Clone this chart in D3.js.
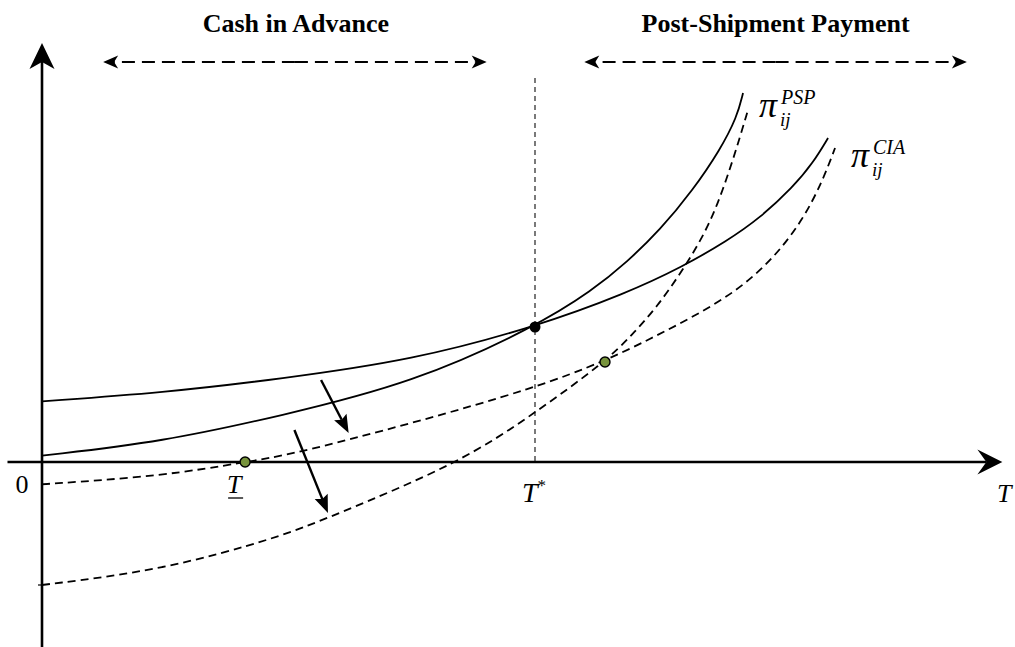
<!DOCTYPE html>
<html>
<head>
<meta charset="utf-8">
<script src="https://cdn.jsdelivr.net/npm/d3@7"></script>
<style>
body { margin: 0; background: #fff; }
svg { display: block; font-family: "Liberation Serif", "Times New Roman", serif; }
</style>
</head>
<body>
<svg id="chart" width="1015" height="647"></svg>
<script>
// profit curves (T on x, profit on y)
var ciaX = [0, 12.27, 24.14, 37.63, 50, 59.33, 64.91, 69.47, 72.82, 76.17, 78.19, 79.72];
var ciaY = [6.07, 6.93, 8.3, 10.2, 13.5, 16.9, 19.5, 22.1, 24.4, 27.5, 29.9, 32.4];
var pspX = [0, 12.27, 24.14, 37.63, 50, 55.88, 59.33, 62.68, 66.02, 68.76, 70.49, 71.1];
var pspY = [0.63, 2.03, 4.6, 7.9, 13.5, 17.2, 20.0, 23.2, 27.2, 31.2, 34.5, 36.9];
// shifted-down curves (dashed)
var ciaLowX = [0, 12.27, 20.59, 25.15, 37.63, 50, 57.1, 61.66, 66.02, 70.49, 74.14, 77.18, 79.21, 80.43];
var ciaLowY = [-2.23, -1.4, 0, 0.7, 3.9, 7.4, 10.1, 12.3, 14.5, 17.1, 20.3, 24.2, 28.2, 31.4];
var pspLowX = [0, 12.27, 24.14, 29.21, 42.39, 50, 57.1, 59.84, 62.37, 65.0, 67.44, 69.07, 70.49, 71.6];
var pspLowY = [-12.3, -10.8, -7.5, -5.5, -0.1, 4.9, 10.0, 12.7, 15.5, 19.2, 23.2, 27.2, 31.5, 35.2];

// special points
var tStar = 50, tStarY = 13.5;
var tLow = 20.6;
var newCross = [57.1, 10.0];

// region labels
var regionLabels = ["Cash in Advance", "Post-Shipment Payment"];
var regionStart = [6.2, 55.0];
var regionEnd = [45.1, 93.8];
var regionY = 40;

// shift arrows [x0, y0, x1, y1]
var shiftArrows = [[28.3, 8.2, 31.1, 2.9], [25.6, 3.2, 29.0, -5.1]];

var width = 1015, height = 647;
var svg = d3.select("#chart");

var xScale = d3.scaleLinear().domain([0, 100]).range([42, 1028]);
var yScale = d3.scaleLinear().domain([-20, 40]).range([662, 62]);

var line = d3.line()
    .x(function(d) { return xScale(d[0]); })
    .y(function(d) { return yScale(d[1]); })
    .curve(d3.curveBasis);

function zipXY(xs, ys) { return xs.map(function(x, i) { return [x, ys[i]]; }); }

// arrow head with tip at (x,y), pointing along angle (deg)
function arrowHead(x, y, angle, len, hw, notch) {
    var pts = [[0, 0], [-len, -hw], [-len + notch, 0], [-len, hw]];
    svg.append("path")
        .attr("d", "M" + pts.join("L") + "Z")
        .attr("transform", "translate(" + x + "," + y + ") rotate(" + angle + ")")
        .attr("fill", "#000");
}

function arrowLine(x0, y0, x1, y1, opts) {
    var ang = Math.atan2(y1 - y0, x1 - x0);
    var back = opts.len - opts.notch;
    svg.append("line")
        .attr("x1", x0).attr("y1", y0)
        .attr("x2", x1 - Math.cos(ang) * back)
        .attr("y2", y1 - Math.sin(ang) * back)
        .attr("stroke", "#000")
        .attr("stroke-width", opts.sw)
        .attr("stroke-dasharray", opts.dash || null);
    arrowHead(x1, y1, ang * 180 / Math.PI, opts.len, opts.hw, opts.notch);
}

// axes
arrowLine(xScale(-3.5), yScale(0), xScale(97.4), yScale(0), {len: 25, hw: 12.5, notch: 9, sw: 2.6});
arrowLine(xScale(0), height, xScale(0), yScale(41.9), {len: 26, hw: 12.5, notch: 7, sw: 2.6});

// small ticks on the y axis at the dashed curve intercepts
svg.append("line").attr("x1", xScale(0)).attr("x2", xScale(0) + 4)
    .attr("y1", yScale(ciaLowY[0])).attr("y2", yScale(ciaLowY[0]))
    .attr("stroke", "#000").attr("stroke-width", 1.2);
svg.append("line").attr("x1", xScale(0) - 4).attr("x2", xScale(0))
    .attr("y1", yScale(pspLowY[0])).attr("y2", yScale(pspLowY[0]))
    .attr("stroke", "#000").attr("stroke-width", 1.2);

// vertical line at T*
svg.append("line")
    .attr("x1", xScale(tStar)).attr("x2", xScale(tStar))
    .attr("y1", yScale(38.4)).attr("y2", yScale(0))
    .attr("stroke", "#222").attr("stroke-width", 1.2)
    .attr("stroke-dasharray", "5,4");

// curves
var curves = [
    {data: zipXY(ciaX, ciaY), dash: null},
    {data: zipXY(pspX, pspY), dash: null},
    {data: zipXY(ciaLowX, ciaLowY), dash: "8,5"},
    {data: zipXY(pspLowX, pspLowY), dash: "8,5"}
];
svg.append("g").selectAll("path")
    .data(curves)
    .enter()
    .append("path")
    .attr("d", function(d) { return line(d.data); })
    .attr("fill", "none")
    .attr("stroke", "#000")
    .attr("stroke-width", 1.8)
    .attr("stroke-dasharray", function(d) { return d.dash; });

// shift arrows
shiftArrows.forEach(function(a) {
    arrowLine(xScale(a[0]), yScale(a[1]), xScale(a[2]), yScale(a[3]), {len: 18, hw: 7, notch: 3, sw: 2.4});
});

// region arrows + labels
regionLabels.forEach(function(lbl, i) {
    var x0 = xScale(regionStart[i]), x1 = xScale(regionEnd[i]), y = yScale(regionY);
    var xm = (x0 + x1) / 2;
    arrowLine(xm, y, x0, y, {len: 15, hw: 6.5, notch: 4, sw: 2.2, dash: "13,7"});
    arrowLine(xm, y, x1, y, {len: 15, hw: 6.5, notch: 4, sw: 2.2, dash: "13,7"});
    svg.append("text")
        .attr("x", xm + (i == 0 ? 1 : 0))
        .attr("y", 32)
        .attr("text-anchor", "middle")
        .style("font-size", "26px")
        .style("font-weight", "bold")
        .text(lbl);
});

// points
svg.append("circle").attr("cx", xScale(tStar)).attr("cy", yScale(tStarY))
    .attr("r", 5.5).attr("fill", "#000");
svg.append("g").selectAll("circle")
    .data([[tLow, 0], newCross])
    .enter()
    .append("circle")
    .attr("cx", function(d) { return xScale(d[0]); })
    .attr("cy", function(d) { return yScale(d[1]); })
    .attr("r", 5)
    .attr("fill", "#77933c")
    .attr("stroke", "#000")
    .attr("stroke-width", 1.4);

// axis labels
svg.append("text").attr("x", 22).attr("y", 493)
    .attr("text-anchor", "middle").style("font-size", "26px").text("0");

svg.append("text").attr("x", xScale(tLow) - 18).attr("y", 493)
    .style("font-size", "26px").style("font-style", "italic").text("T");
svg.append("line").attr("x1", xScale(tLow) - 17).attr("x2", xScale(tLow) - 2)
    .attr("y1", 498).attr("y2", 498).attr("stroke", "#000").attr("stroke-width", 1.3);

var ts = svg.append("text").attr("x", xScale(tStar) - 13).attr("y", 502)
    .style("font-size", "28px").style("font-style", "italic");
ts.append("tspan").text("T");
ts.append("tspan").attr("dy", -11).style("font-size", "17px").style("font-style", "normal").text("*");

svg.append("text").attr("x", 997).attr("y", 502)
    .style("font-size", "26px").style("font-style", "italic").text("T");

// curve labels
function piLabel(x, y, sup) {
    svg.append("text").attr("x", x).attr("y", y)
        .style("font-size", "36px").style("font-style", "italic").text("\u03c0");
    svg.append("text").attr("x", x + 22).attr("y", y - 13)
        .style("font-size", "20px").style("font-style", "italic").text(sup);
    svg.append("text").attr("x", x + 21).attr("y", y + 9)
        .style("font-size", "19px").style("font-style", "italic").text("ij");
}
piLabel(759, 117, "PSP");
piLabel(851, 167, "CIA");
</script>
</body>
</html>
